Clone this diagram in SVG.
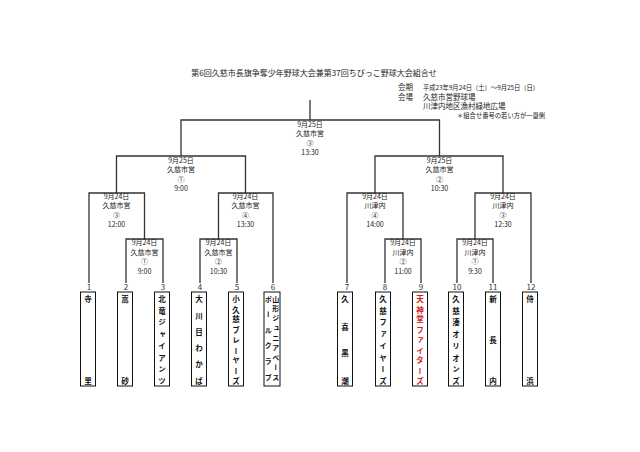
<svg xmlns="http://www.w3.org/2000/svg" width="640" height="452" viewBox="0 0 640 452">
<style>
text{font-family:"Noto Sans CJK JP","Noto Sans",sans-serif;fill:#222}
.title{font-size:8px;text-anchor:middle}
.info{font-size:7.5px}
.small{font-size:6.3px}
.lbl{font-size:7px;text-anchor:middle}
.num{font-size:8px;text-anchor:middle;fill:#333}
.box{fill:#fff;stroke:#111;stroke-width:1}
.team{font-size:7.5px;writing-mode:vertical-rl;font-weight:bold;fill:#111}
.t6{font-size:7px}
.red{fill:#d42020}
.ln{fill:none;stroke:#333;stroke-width:1.3}
</style>
<rect width="640" height="452" fill="#fff"/>
<g id="title"><text class="title" x="314" y="76">第6回久慈市長旗争奪少年野球大会兼第37回ちびっこ野球大会組合せ</text></g>
<g id="info">
<text class="info" x="398" y="90">会期</text>
<text class="small" x="423" y="90">平成23年9月24日（土）～9月25日（日）</text>
<text class="info" x="398" y="99.5">会場</text>
<text class="info" x="423" y="99.5">久慈市営野球場</text>
<text class="info" x="423" y="109">川津内地区漁村緑地広場</text>
<text class="small" x="457" y="117.5">＊組合せ番号の若い方が一塁側</text>
</g>
<g id="connectors">
<path class="ln" d="M310 100V120M181 156V120H439.5V156"/>
<path class="ln" d="M116.5 193V156H245.5V193"/>
<path class="ln" d="M375 193V156H503V193"/>
<path class="ln" d="M89 283V193H144.5V239"/>
<path class="ln" d="M218.5 239V193H273V283"/>
<path class="ln" d="M126 283V239H163V283"/>
<path class="ln" d="M200 283V239H237V283"/>
<path class="ln" d="M347 283V193H403V239"/>
<path class="ln" d="M475 239V193H531V283"/>
<path class="ln" d="M385 283V239H421V283"/>
<path class="ln" d="M457 283V239H493V283"/>
</g>
<g id="m-final"><text class="lbl" x="310" y="127"><tspan x="310">9月25日</tspan><tspan x="310" dy="9.3">久慈市営</tspan><tspan x="310" dy="9.3">③</tspan><tspan x="310" dy="9.3">13:30</tspan></text></g>
<g id="m-semi1"><text class="lbl" x="181" y="162.5"><tspan x="181">9月25日</tspan><tspan x="181" dy="9.6">久慈市営</tspan><tspan x="181" dy="9.6">①</tspan><tspan x="181" dy="9.6">9:00</tspan></text></g>
<g id="m-semi2"><text class="lbl" x="439.5" y="162.5"><tspan x="439.5">9月25日</tspan><tspan x="439.5" dy="9.6">久慈市営</tspan><tspan x="439.5" dy="9.6">②</tspan><tspan x="439.5" dy="9.6">10:30</tspan></text></g>
<g id="m-q1"><text class="lbl" x="116.5" y="199"><tspan x="116.5">9月24日</tspan><tspan x="116.5" dy="9.3">久慈市営</tspan><tspan x="116.5" dy="9.3">③</tspan><tspan x="116.5" dy="9.6">12:00</tspan></text></g>
<g id="m-q2"><text class="lbl" x="245.5" y="199"><tspan x="245.5">9月24日</tspan><tspan x="245.5" dy="9.3">久慈市営</tspan><tspan x="245.5" dy="9.3">④</tspan><tspan x="245.5" dy="9.6">13:30</tspan></text></g>
<g id="m-q3"><text class="lbl" x="375" y="199"><tspan x="375">9月24日</tspan><tspan x="375" dy="9.3">川津内</tspan><tspan x="375" dy="9.3">④</tspan><tspan x="375" dy="9.6">14:00</tspan></text></g>
<g id="m-q4"><text class="lbl" x="503" y="199"><tspan x="503">9月24日</tspan><tspan x="503" dy="9.3">川津内</tspan><tspan x="503" dy="9.3">③</tspan><tspan x="503" dy="9.6">12:30</tspan></text></g>
<g id="m-r1"><text class="lbl" x="144.5" y="245"><tspan x="144.5">9月24日</tspan><tspan x="144.5" dy="9.5">久慈市営</tspan><tspan x="144.5" dy="9.5">①</tspan><tspan x="144.5" dy="10">9:00</tspan></text></g>
<g id="m-r2"><text class="lbl" x="218.5" y="245"><tspan x="218.5">9月24日</tspan><tspan x="218.5" dy="9.5">久慈市営</tspan><tspan x="218.5" dy="9.5">②</tspan><tspan x="218.5" dy="10">10:30</tspan></text></g>
<g id="m-r3"><text class="lbl" x="403" y="245"><tspan x="403">9月24日</tspan><tspan x="403" dy="9.5">川津内</tspan><tspan x="403" dy="9.5">②</tspan><tspan x="403" dy="10">11:00</tspan></text></g>
<g id="m-r4"><text class="lbl" x="475" y="245"><tspan x="475">9月24日</tspan><tspan x="475" dy="9.5">川津内</tspan><tspan x="475" dy="9.5">①</tspan><tspan x="475" dy="10">9:30</tspan></text></g>
<g id="team-1"><text class="num" x="89" y="290">1</text><rect class="box" x="80.5" y="292" width="15" height="94"/><text class="team" x="88"><tspan y="295.2">寺</tspan><tspan y="377.2">里</tspan></text></g>
<g id="team-2"><text class="num" x="126" y="290">2</text><rect class="box" x="117.5" y="292" width="15" height="94"/><text class="team" x="125"><tspan y="295.2">嵩</tspan><tspan y="377.2">砂</tspan></text></g>
<g id="team-3"><text class="num" x="163" y="290">3</text><rect class="box" x="154.5" y="292" width="15" height="94"/><text class="team" x="162"><tspan y="295.2">北</tspan><tspan y="306.9">竜</tspan><tspan y="318.6">ジ</tspan><tspan y="330.3">ャ</tspan><tspan y="342.1">イ</tspan><tspan y="353.8">ア</tspan><tspan y="365.5">ン</tspan><tspan y="377.2">ツ</tspan></text></g>
<g id="team-4"><text class="num" x="200" y="290">4</text><rect class="box" x="191.5" y="292" width="15" height="94"/><text class="team" x="199"><tspan y="295.2">大</tspan><tspan y="311.6">川</tspan><tspan y="328">目</tspan><tspan y="344.4">わ</tspan><tspan y="360.8">か</tspan><tspan y="377.2">ば</tspan></text></g>
<g id="team-5"><text class="num" x="237" y="290">5</text><rect class="box" x="228.5" y="292" width="15" height="94"/><text class="team" x="236"><tspan y="295.2">小</tspan><tspan y="305.45">久</tspan><tspan y="315.7">慈</tspan><tspan y="325.95">ブ</tspan><tspan y="336.2">レ</tspan><tspan y="346.45">ー</tspan><tspan y="356.7">ヤ</tspan><tspan y="366.95">ー</tspan><tspan y="377.2">ズ</tspan></text></g>
<g id="team-6"><text class="num" x="273" y="290">6</text><rect class="box" x="264" y="292" width="16" height="94"/><text class="team t6" x="275.8"><tspan y="295.5">山</tspan><tspan y="305.25">形</tspan><tspan y="315">ジ</tspan><tspan y="324.75">ュ</tspan><tspan y="334.5">ニ</tspan><tspan y="344.25">ア</tspan><tspan y="354">ベ</tspan><tspan y="363.75">ー</tspan><tspan y="373.5">ス</tspan></text><text class="team t6" x="268.2"><tspan y="295.5">ボ</tspan><tspan y="311.1">ー</tspan><tspan y="326.7">ル</tspan><tspan y="342.3">ク</tspan><tspan y="357.9">ラ</tspan><tspan y="373.5">ブ</tspan></text></g>
<g id="team-7"><text class="num" x="347" y="290">7</text><rect class="box" x="337.5" y="292" width="15" height="94"/><text class="team" x="345"><tspan y="295.2">久</tspan><tspan y="322.5">喜</tspan><tspan y="349.9">黒</tspan><tspan y="377.2">潮</tspan></text></g>
<g id="team-8"><text class="num" x="385" y="290">8</text><rect class="box" x="375.5" y="292" width="15" height="94"/><text class="team" x="383"><tspan y="295.2">久</tspan><tspan y="306.9">慈</tspan><tspan y="318.6">フ</tspan><tspan y="330.3">ァ</tspan><tspan y="342.1">イ</tspan><tspan y="353.8">ヤ</tspan><tspan y="365.5">ー</tspan><tspan y="377.2">ズ</tspan></text></g>
<g id="team-9"><text class="num" x="421" y="290">9</text><rect class="box" x="412.5" y="292" width="15" height="94"/><text class="team red" x="420"><tspan y="295.2">天</tspan><tspan y="305.45">神</tspan><tspan y="315.7">堂</tspan><tspan y="325.95">フ</tspan><tspan y="336.2">ァ</tspan><tspan y="346.45">イ</tspan><tspan y="356.7">タ</tspan><tspan y="366.95">ー</tspan><tspan y="377.2">ズ</tspan></text></g>
<g id="team-10"><text class="num" x="457" y="290">10</text><rect class="box" x="448.5" y="292" width="15" height="94"/><text class="team" x="456"><tspan y="295.2">久</tspan><tspan y="306.9">慈</tspan><tspan y="318.6">湊</tspan><tspan y="330.3">オ</tspan><tspan y="342.1">リ</tspan><tspan y="353.8">オ</tspan><tspan y="365.5">ン</tspan><tspan y="377.2">ズ</tspan></text></g>
<g id="team-11"><text class="num" x="493" y="290">11</text><rect class="box" x="485.5" y="292" width="15" height="94"/><text class="team" x="493"><tspan y="295.2">新</tspan><tspan y="336.2">長</tspan><tspan y="377.2">内</tspan></text></g>
<g id="team-12"><text class="num" x="531" y="290">12</text><rect class="box" x="522.5" y="292" width="15" height="94"/><text class="team" x="530"><tspan y="295.2">侍</tspan><tspan y="377.2">浜</tspan></text></g>
</svg>
